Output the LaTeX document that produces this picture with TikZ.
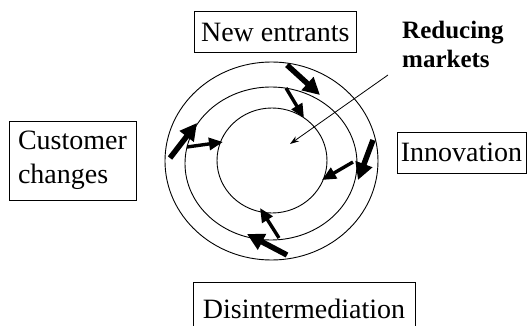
\documentclass[tikz,border=0pt]{standalone}
\usepackage{fontspec}
\setmainfont{Liberation Serif}
\usetikzlibrary{arrows.meta}
\tikzset{
  label box/.style={draw,line width=0.8pt,inner sep=0pt,text height=18pt,text depth=0pt,font=\fontsize{28}{34}\selectfont},
  ring/.style={line width=0.9pt},
  fat arrow/.style={line width=5.5pt,-{Triangle[length=17pt,width=17pt]}},
  mid arrow/.style={line width=3.4pt,-{Triangle[length=14pt,width=12pt]}},
}
\begin{document}
\begin{tikzpicture}[x=1pt,y=-1pt]
\useasboundingbox (0,0) rectangle (528,326);
\clip (0,0) rectangle (528,326);
%\draw[step=20,gray,very thin] (0,0) grid (528,326);
% the three rings
\draw[ring] (271.5,161) ellipse (106.5 and 99);
\draw[ring] (271,163.5) ellipse (86 and 76.5);
\draw[ring] (272,160.5) ellipse (55 and 52.5);
% forces
\node[label box,minimum width=162pt,minimum height=41pt] (entrants) at (275.3,32.3) {New entrants};
\node[label box,minimum width=127pt,minimum height=79pt,align=left,text height=,text depth=] (customer) at (72.5,160.5) {Customer\\changes};
\node[label box,minimum width=129pt,minimum height=41pt] (innovation) at (461.5,152.5) {Innovation};
\node[label box,minimum width=222pt,minimum height=54pt] (disinter) at (304,309) {Disintermediation};
\node[anchor=base west,inner sep=0pt,align=left,font=\fontsize{25}{29}\selectfont\bfseries] (reducing) at (402,68) {Reducing\\markets};
% arrow ends
\coordinate (t1) at (287,65);  \coordinate (t2) at (320,95);
\coordinate (t3) at (286,88);  \coordinate (t4) at (304,118);
\coordinate (r1) at (373,140); \coordinate (r2) at (358,180);
\coordinate (r3) at (353,162); \coordinate (r4) at (322,180);
\coordinate (l1) at (170,158); \coordinate (l2) at (197,123);
\coordinate (l3) at (187,147); \coordinate (l4) at (223,142);
\coordinate (b1) at (287,255); \coordinate (b2) at (247,234);
\coordinate (b3) at (279,238); \coordinate (b4) at (260,208);
\coordinate (m1) at (388,75);  \coordinate (m2) at (290,144);
\draw[fat arrow] (t1) -- (t2);
\draw[mid arrow] (t3) -- (t4);
\draw[fat arrow] (r1) -- (r2);
\draw[mid arrow] (r3) -- (r4);
\draw[fat arrow] (l1) -- (l2);
\draw[mid arrow] (l3) -- (l4);
\draw[fat arrow] (b1) -- (b2);
\draw[mid arrow] (b3) -- (b4);
\draw[line width=0.8pt,-{Stealth[length=9pt,width=6pt]}] (m1) -- (m2);
\end{tikzpicture}
\end{document}
